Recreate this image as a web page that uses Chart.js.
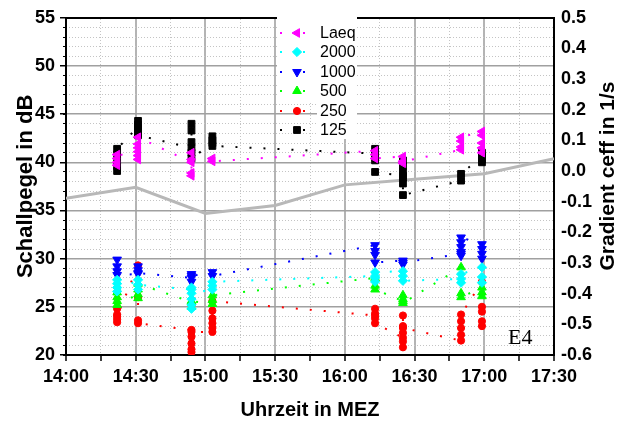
<!DOCTYPE html>
<html>
<head>
<meta charset="utf-8">
<script src="https://cdn.jsdelivr.net/npm/chart.js@4.4.0/dist/chart.umd.min.js"></script>
<style>
  html, body { margin: 0; padding: 0; background: #fff; }
  #wrap { width: 622px; height: 423px; }
</style>
</head>
<body>
<div id="wrap"><canvas id="chart" width="622" height="423"></canvas></div>
<script>
// start time of each measurement run
const runTimes = ['14:22', '14:31', '14:54', '15:03', '16:13', '16:25', '16:50', '16:59'];

// levels in dB, one list per run, in measurement order
const laeq = [
  [39.7, 40.0, 40.4, 40.8],
  [40.7, 40.3, 41.1, 41.5, 41.9, 42.6],
  [40.0, 41.0, 38.9, 38.6, 40.3],
  [40.4, 40.1],
  [41.2, 40.8, 40.4],
  [40.6, 39.9, 40.1],
  [41.3, 41.6, 42.2, 42.6],
  [43.2, 42.8, 42.0, 41.5, 41.0]
];
const f2000 = [
  [27.8, 27.4, 27.0, 26.6],
  [27.8, 26.8, 27.3],
  [26.8, 27.0, 25.2, 24.8, 25.8, 26.4],
  [26.8, 27.2, 27.6],
  [28.2, 27.6, 28.0, 28.6],
  [28.7, 28.2, 27.7],
  [27.9, 27.5, 28.4],
  [29.1, 28.1, 27.5]
];
const f1000 = [
  [29.9, 29.2, 28.7, 28.3],
  [28.4, 29.2, 28.8, 28.5],
  [28.0, 28.4, 27.6, 28.2],
  [28.6, 28.2],
  [31.4, 30.8, 30.4, 29.6],
  [29.8, 29.4, 29.6],
  [30.5, 30.3, 30.7, 31.2, 31.7, 32.2],
  [31.5, 31.0, 30.5, 30.0]
];
const f500 = [
  [26.5, 26.0, 25.6, 25.2],
  [26.3, 25.9, 26.8, 27.4],
  [25.5, 25.0, 25.6],
  [25.3, 25.7, 26.2],
  [28.0, 27.2, 26.8],
  [25.6, 26.2, 25.8, 25.4],
  [29.1, 26.4, 26.0],
  [27.0, 26.5, 26.1]
];
const f250 = [
  [24.8, 24.2, 23.4, 23.7, 24.0],
  [29.3, 26.0, 23.6, 23.3],
  [22.6, 21.9, 21.2, 20.6, 20.3, 22.4],
  [22.4, 22.8, 23.3, 23.8, 24.6, 25.6],
  [24.1, 24.8, 24.3, 23.8, 23.3],
  [21.8, 20.8, 21.4, 22.3, 23.0, 24.1, 22.8],
  [21.5, 22.1, 22.8, 23.5, 24.2],
  [27.6, 25.0, 24.5, 23.5, 23.0]
];
const f125 = [
  [39.1, 39.6, 40.2, 40.8, 41.4],
  [43.7, 44.3, 43.9, 43.5, 43.0, 42.8],
  [41.5, 44.0, 43.3, 42.1, 41.0, 40.4],
  [42.0, 42.7, 42.3, 41.7],
  [40.9, 41.4, 41.0, 40.6, 40.2, 39.0],
  [38.6, 40.2, 39.6, 39.0, 38.4, 37.8, 36.6],
  [38.1, 38.8],
  [40.6, 41.0, 40.3, 40.0]
];

// ceff gradient (right axis)
const gradTimes = ['14:00', '14:30', '15:00', '15:30', '16:00', '16:30', '17:00', '17:30'];
const gradValues = [-0.089, -0.053, -0.138, -0.112, -0.045, -0.027, -0.009, 0.040];

const xTickLabels = ['14:00', '14:30', '15:00', '15:30', '16:00', '16:30', '17:00', '17:30'];

const FONT = "'Liberation Sans', Arial, sans-serif";

function toMin(t) {
  const [h, m] = t.split(':').map(Number);
  return (h - 14) * 60 + m;
}

function runPoints(runs) {
  return runs.flatMap((vals, i) => vals.map(v => ({ x: toMin(runTimes[i]), y: v })));
}

function series(label, runs, color, style, rot, radius) {
  return {
    label: label,
    data: runPoints(runs),
    showLine: true,
    borderColor: color,
    borderWidth: 2,
    borderDash: [2, 12],
    pointStyle: style,
    rotation: rot,
    pointRadius: radius,
    pointHoverRadius: radius,
    pointBackgroundColor: color,
    pointBorderColor: color,
    pointBorderWidth: 1,
    yAxisID: 'y'
  };
}

const datasets = [
  series('Laeq', laeq, '#ff00ff', 'triangle', -90, 5),
  series('2000', f2000, '#00ffff', 'rectRot', 0, 4.6),
  series('1000', f1000, '#0000ff', 'triangle', 180, 5),
  series('500', f500, '#00ff00', 'triangle', 0, 5),
  series('250', f250, '#ff0000', 'circle', 0, 3.6),
  series('125', f125, '#000000', 'rect', 0, 4.8),
  {
    label: 'gradient',
    data: gradTimes.map((t, i) => ({ x: toMin(t), y: gradValues[i] })),
    showLine: true,
    borderColor: '#b8b8b8',
    borderWidth: 3,
    pointRadius: 0,
    yAxisID: 'y2'
  }
];

// legend inside the plot, titles that Chart.js cannot rotate the same way
const extras = {
  id: 'extras',
  afterDatasetsDraw(chart) {
    const ctx = chart.ctx;
    ctx.save();
    ctx.fillStyle = '#fff';
    ctx.fillRect(277, 17, 80, 86);
    const rowY = [33, 52, 72, 91, 111, 130];
    for (let i = 0; i < 6; i++) {
      const ds = chart.data.datasets[i];
      const y = rowY[i];
      ctx.fillStyle = '#fff';
      ctx.fillRect(317, y - 9, 40, 18);
      ctx.strokeStyle = ds.borderColor;
      ctx.lineWidth = 2;
      ctx.setLineDash([2, 21]);
      ctx.beginPath();
      ctx.moveTo(280, y);
      ctx.lineTo(310, y);
      ctx.stroke();
      ctx.setLineDash([]);
      ctx.fillStyle = ds.pointBackgroundColor;
      ctx.strokeStyle = ds.pointBorderColor;
      ctx.lineWidth = 1;
      Chart.helpers.drawPoint(ctx, {
        pointStyle: ds.pointStyle, rotation: ds.rotation, radius: ds.pointRadius, borderWidth: 1
      }, 297, y);
      ctx.fillStyle = '#000';
      ctx.font = '16px ' + FONT;
      ctx.textAlign = 'left';
      ctx.textBaseline = 'middle';
      ctx.fillText(ds.label, 320, y + 1);
    }
    ctx.font = '22px "Liberation Serif", "Times New Roman", serif';
    ctx.textBaseline = 'alphabetic';
    ctx.fillText('E4', 508, 344);
    ctx.restore();
  },
  afterDraw(chart) {
    const ctx = chart.ctx;
    ctx.save();
    ctx.translate(608, 176);
    ctx.rotate(-Math.PI / 2);
    ctx.font = 'bold 21px ' + FONT;
    ctx.fillStyle = '#000';
    ctx.textAlign = 'center';
    ctx.textBaseline = 'middle';
    ctx.fillText('Gradient ceff in 1/s', 0, 0);
    ctx.restore();
  }
};

const tickFont = { family: FONT, size: 18, weight: 'bold' };

new Chart(document.getElementById('chart'), {
  type: 'scatter',
  data: { datasets: datasets },
  plugins: [extras],
  options: {
    responsive: false,
    animation: false,
    events: [],
    layout: { padding: { top: 15, left: 0, right: 0, bottom: 0 } },
    plugins: {
      legend: { display: false },
      tooltip: { enabled: false }
    },
    scales: {
      x: {
        type: 'linear',
        position: 'bottom',
        min: 0,
        max: 210,
        afterFit: s => { s.height = 68; },
        ticks: {
          stepSize: 15,
          autoSkip: false,
          maxRotation: 0,
          padding: 5,
          color: '#000',
          font: tickFont,
          callback: v => (v % 30 === 0 ? xTickLabels[v / 30] : '')
        },
        grid: {
          color: c => (c.tick && c.tick.value % 30 === 0 ? '#b4b4b4' : 'rgba(0,0,0,0)'),
          lineWidth: 2,
          tickColor: '#000',
          tickWidth: 1.5,
          tickLength: 6
        },
        border: { color: '#000', width: 2 },
        title: {
          display: true,
          text: 'Uhrzeit in MEZ',
          color: '#000',
          font: { family: FONT, size: 20, weight: 'bold' },
          padding: { top: 0, bottom: 1 }
        }
      },
      xMinor: {
        type: 'linear',
        position: 'top',
        min: 0,
        max: 210,
        afterFit: s => { s.height = 0; },
        ticks: { display: false, stepSize: 15 },
        grid: {
          color: c => (c.tick && c.tick.value % 30 === 0 ? 'rgba(0,0,0,0)' : '#c4c4c4'),
          lineWidth: 1,
          drawTicks: false
        },
        border: { color: '#000', width: 2, dash: [1, 2] }
      },
      y: {
        type: 'linear',
        position: 'left',
        weight: 1,
        min: 20,
        max: 55,
        afterFit: s => { s.width = 66; },
        ticks: { stepSize: 5, padding: 5, color: '#000', font: tickFont },
        grid: {
          color: '#a0a0a0',
          lineWidth: 1.5,
          tickColor: '#000',
          tickWidth: 1.5,
          tickLength: 6
        },
        border: { color: '#000', width: 2 },
        title: {
          display: true,
          text: 'Schallpegel in dB',
          color: '#000',
          font: { family: FONT, size: 22, weight: 'bold' },
          padding: { top: 13, bottom: 0 }
        }
      },
      yMinor: {
        type: 'linear',
        position: 'left',
        weight: 0,
        min: 20,
        max: 55,
        afterFit: s => { s.width = 0; },
        ticks: { display: false, stepSize: 1 },
        grid: {
          color: c => (c.tick && c.tick.value % 5 === 0 ? 'rgba(0,0,0,0)' : '#c4c4c4'),
          lineWidth: 1,
          tickColor: '#000',
          tickLength: 3
        },
        border: { display: false, dash: [1, 2] }
      },
      y2: {
        type: 'linear',
        position: 'right',
        min: -0.6,
        max: 0.5,
        afterFit: s => { s.width = 68; },
        ticks: {
          stepSize: 0.1,
          padding: 7,
          color: '#000',
          font: tickFont,
          callback: v => (Math.abs(v) < 1e-9 ? '0.0' : v.toFixed(1))
        },
        grid: { drawOnChartArea: false, drawTicks: false },
        border: { color: '#000', width: 2 }
      }
    }
  }
});
</script>
</body>
</html>
